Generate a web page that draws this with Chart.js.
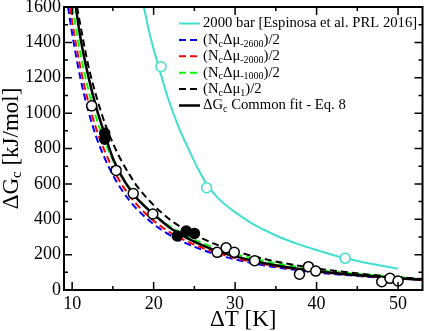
<!DOCTYPE html>
<html lang="en">
<head>
<meta charset="UTF-8">
<title>Nucleation barrier vs supercooling</title>
<script src="https://cdn.jsdelivr.net/npm/chart.js"></script>
<style>
  body { margin: 0; background: #fff; }
</style>
</head>
<body>
<canvas id="barrierChart" width="429" height="331"></canvas>
<script>
// ΔT [K] / ΔGc [kJ/mol] values
const cyanT  = [18.8, 19.5, 20.6, 21.8, 23, 24.2, 25.4, 26.5, 28, 30, 32, 35, 38, 40, 43.5, 47, 50];
const cyanG  = [1600, 1450, 1265, 1080, 930, 805, 690, 600, 515, 440, 378, 308, 255, 226, 179, 145, 120];

const blueT  = [9.5, 10, 11, 12, 13, 14, 15, 16, 17, 18, 20, 22, 24, 26, 28, 30, 33, 36, 40, 44, 48, 53];
const blueG  = [1600, 1450, 1200, 1010, 860, 745, 650, 572, 508, 455, 372, 310, 264, 227, 197, 173, 144, 122, 99, 83, 70, 57];

const redT   = [9.75, 10, 11, 12, 13, 14, 15, 16, 17, 18, 20, 22, 24, 26, 28, 30, 33, 36, 40, 44, 48, 53];
const redG   = [1600, 1520, 1260, 1060, 905, 785, 685, 603, 536, 480, 392, 326, 277, 238, 207, 181, 150, 127, 103, 86, 72, 58];

const greenT = [10.05, 11, 12, 13, 14, 15, 16, 17, 18, 20, 22, 24, 26, 28, 30, 33, 36, 40, 44, 48, 53];
const greenG = [1600, 1340, 1130, 965, 838, 735, 650, 580, 520, 428, 360, 306, 265, 230, 203, 170, 143, 116, 96, 80, 61];

const dashT  = [10.6, 11, 12, 13, 14, 15, 16, 17, 18, 20, 22, 24, 26, 28, 30, 33, 36, 40, 44, 48, 53];
const dashG  = [1600, 1500, 1265, 1090, 945, 830, 735, 655, 585, 480, 398, 338, 290, 252, 220, 182, 152, 122, 99, 80, 62];

const fitT   = [10.45, 11, 12, 13, 14, 15, 16, 17, 18, 20, 22, 24, 26, 28, 30, 33, 36, 40, 44, 48, 53];
const fitG   = [1600, 1430, 1205, 1025, 880, 745, 650, 575, 515, 428, 352, 296, 252, 217, 190, 157, 131, 106, 88, 73, 58];

// simulation points
const openT   = [12.4, 15.4, 17.5, 19.9, 27.8, 28.9, 29.9, 32.4, 37.9, 39.0, 39.9, 48.0, 49.0, 50.0];
const openG   = [1041, 676, 545, 430, 213, 239, 213, 166, 89, 132, 107, 47, 66, 51];
const filledT = [14.0, 14.0, 22.9, 24.0, 25.0];
const filledG = [886, 852, 305, 333, 320];
const cyanPtT = [20.9, 26.5, 43.5];
const cyanPtG = [1262, 578, 179];

const xTicks = [10, 20, 30, 40, 50];
const xMinor = [15, 25, 35, 45];
const yTicks = [0, 200, 400, 600, 800, 1000, 1200, 1400, 1600];
const yMinor = [100, 300, 500, 700, 900, 1100, 1300, 1500];

const legendRows = [
  { color: '#40e0d0', dash: [], parts: [['2000 bar [Espinosa et al. PRL 2016]', 0]] },
  { color: '#0000ff', dash: [7, 4], parts: [['(N', 0], ['c', 1], ['\u0394\u03bc', 0], ['-2600', 1], [')/2', 0]] },
  { color: '#ff0000', dash: [7, 4], parts: [['(N', 0], ['c', 1], ['\u0394\u03bc', 0], ['-2000', 1], [')/2', 0]] },
  { color: '#00ff00', dash: [7, 4], parts: [['(N', 0], ['c', 1], ['\u0394\u03bc', 0], ['-1000', 1], [')/2', 0]] },
  { color: '#000000', dash: [7, 4], parts: [['(N', 0], ['c', 1], ['\u0394\u03bc', 0], ['1', 1], [')/2', 0]] },
  { color: '#000000', dash: [], parts: [['\u0394G', 0], ['c', 1], [' Common fit - Eq. 8', 0]] }
];

const SERIF = "'Liberation Serif', 'DejaVu Serif', serif";
const pts = (xs, ys) => xs.map((x, i) => ({ x: x, y: ys[i] }));

function curve(xs, ys, color, width, dash) {
  return {
    data: pts(xs, ys), showLine: true, borderColor: color, borderWidth: width,
    borderDash: dash, pointRadius: 0, cubicInterpolationMode: 'monotone', fill: false
  };
}
function markers(xs, ys, fillColor, edgeColor) {
  return {
    data: pts(xs, ys), showLine: false, pointRadius: 5, pointBorderWidth: 1.5,
    pointBackgroundColor: fillColor, pointBorderColor: edgeColor
  };
}

function drawRich(ctx, parts, x, y, size, subSize, subDrop) {
  parts.forEach(([txt, sub]) => {
    ctx.font = (sub ? subSize : size) + 'px ' + SERIF;
    ctx.fillText(txt, x, sub ? y + subDrop : y);
    x += ctx.measureText(txt).width;
  });
  return x;
}
function richWidth(ctx, parts, size, subSize) {
  let w = 0;
  parts.forEach(([txt, sub]) => {
    ctx.font = (sub ? subSize : size) + 'px ' + SERIF;
    w += ctx.measureText(txt).width;
  });
  return w;
}

const decorations = {
  id: 'decorations',
  afterDraw(chart) {
    const { ctx, chartArea: a, scales: { x, y } } = chart;
    ctx.save();

    // inward ticks on all four sides
    ctx.strokeStyle = '#000';
    ctx.lineWidth = 1.5;
    ctx.beginPath();
    const xt = (v, len) => {
      const px = x.getPixelForValue(v);
      ctx.moveTo(px, a.bottom); ctx.lineTo(px, a.bottom - len);
      ctx.moveTo(px, a.top); ctx.lineTo(px, a.top + len);
    };
    const yt = (v, len) => {
      const py = y.getPixelForValue(v);
      ctx.moveTo(a.left, py); ctx.lineTo(a.left + len, py);
      ctx.moveTo(a.right, py); ctx.lineTo(a.right - len, py);
    };
    xTicks.forEach(v => xt(v, 8));
    xMinor.forEach(v => xt(v, 4));
    yTicks.forEach(v => yt(v, 8));
    yMinor.forEach(v => yt(v, 4));
    ctx.stroke();

    ctx.lineWidth = 2;
    ctx.strokeRect(a.left, a.top, a.right - a.left, a.bottom - a.top);

    // legend
    ctx.fillStyle = '#000';
    ctx.textBaseline = 'middle';
    ctx.textAlign = 'left';
    legendRows.forEach((row, i) => {
      const ry = 23.5 + i * 16.4;
      ctx.beginPath();
      ctx.strokeStyle = row.color;
      ctx.lineWidth = i === 5 ? 2.5 : 2;
      ctx.setLineDash(row.dash);
      ctx.moveTo(179, ry); ctx.lineTo(200, ry);
      ctx.stroke();
      ctx.setLineDash([]);
      drawRich(ctx, row.parts, 203, ry, 14.7, 10, 4);
    });

    // y axis title with subscript
    const yParts = [['\u0394G', 0], ['c', 1], [' [kJ/mol]', 0]];
    ctx.translate(11.5, (a.top + a.bottom) / 2);
    ctx.rotate(-Math.PI / 2);
    const w = richWidth(ctx, yParts, 23, 15);
    drawRich(ctx, yParts, -w / 2, 0, 23, 15, 6);

    ctx.restore();
  }
};

new Chart(document.getElementById('barrierChart'), {
  type: 'scatter',
  data: {
    datasets: [
      markers(cyanPtT, cyanPtG, '#ffffff', '#40e0d0'),
      markers(openT, openG, '#ffffff', '#000000'),
      markers(filledT, filledG, '#000000', '#000000'),
      curve(fitT, fitG, '#000000', 2.5, []),
      curve(dashT, dashG, '#000000', 2, [7, 4]),
      curve(greenT, greenG, '#00ff00', 2, [7, 4]),
      curve(redT, redG, '#ff0000', 2, [7, 4]),
      curve(blueT, blueG, '#0000ff', 2, [7, 4]),
      curve(cyanT, cyanG, '#40e0d0', 2, [])
    ]
  },
  options: {
    responsive: false,
    devicePixelRatio: 1,
    animation: false,
    events: [],
    layout: { padding: { top: 7, right: 2, left: 0, bottom: 0 } },
    plugins: { legend: { display: false }, tooltip: { enabled: false } },
    scales: {
      x: {
        type: 'linear', position: 'bottom', min: 9, max: 53,
        grid: { display: false, drawTicks: false },
        border: { display: false },
        afterBuildTicks: s => { s.ticks = xTicks.map(v => ({ value: v })); },
        afterFit: s => { s.height = 41; s.paddingLeft = 0; s.paddingRight = 0; s.paddingTop = 0; s.paddingBottom = 0; },
        ticks: { color: '#000', padding: 3, maxRotation: 0, autoSkip: false, font: { family: SERIF, size: 18 }, callback: v => String(v) },
        title: { display: true, text: '\u0394T [K]', color: '#000', padding: 0, font: { family: SERIF, size: 23, lineHeight: 1 } }
      },
      y: {
        type: 'linear', min: 0, max: 1600,
        grid: { display: false, drawTicks: false },
        border: { display: false },
        afterBuildTicks: s => { s.ticks = yTicks.map(v => ({ value: v })); },
        afterFit: s => { s.width = 64; s.paddingLeft = 0; s.paddingRight = 0; s.paddingTop = 0; s.paddingBottom = 0; },
        ticks: { color: '#000', padding: 3, font: { family: SERIF, size: 18 }, callback: v => String(v) }
      }
    }
  },
  plugins: [decorations]
});
</script>
</body>
</html>
